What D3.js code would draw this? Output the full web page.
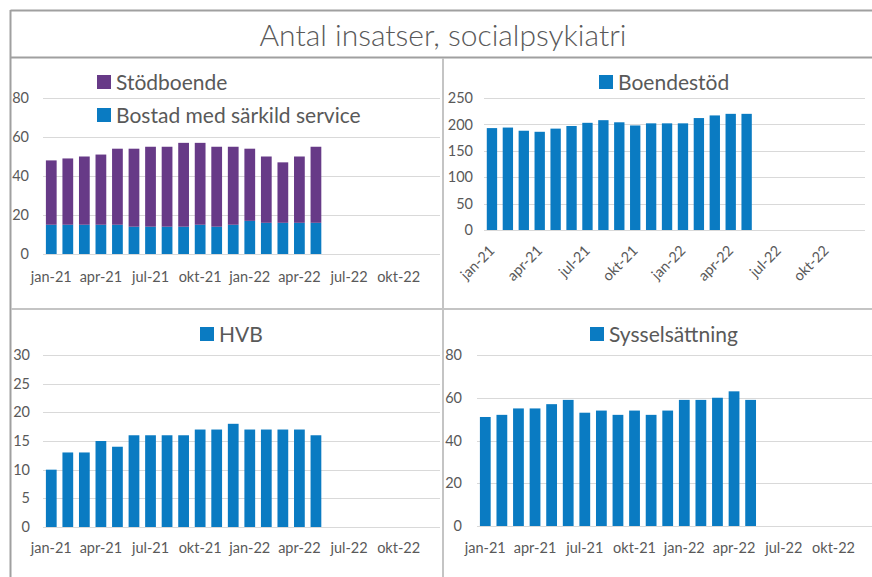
<!DOCTYPE html>
<html><head><meta charset="utf-8">
<script src="https://cdn.jsdelivr.net/npm/d3@7/dist/d3.min.js"></script>
<style>
body{margin:0;background:#fff;}
svg{display:block;font-family:Lato,"Open Sans",sans-serif;}
</style></head>
<body><svg id="c" width="872" height="577"></svg>
<script>
const months = ["jan-21","feb-21","mar-21","apr-21","maj-21","jun-21","jul-21","aug-21","sep-21","okt-21","nov-21","dec-21",
                "jan-22","feb-22","mar-22","apr-22","maj-22","jun-22","jul-22","aug-22","sep-22","okt-22","nov-22","dec-22"];
const tickLabels = ["jan-21","apr-21","jul-21","okt-21","jan-22","apr-22","jul-22","okt-22"];
const bostad = [15,15,15,15,15,14,14,14,14,15,14,15,17,16,16,16,16];
const stodboende = [33,34,35,36,39,40,41,41,43,42,41,40,37,34,31,34,39];
const boendestod = [193,194,188,186,192,197,203,208,204,198,202,202,202,212,217,220,220];
const hvb = [10,13,13,15,14,16,16,16,16,17,17,18,17,17,17,17,16];
const syssel = [51,52,55,55,57,59,53,54,52,54,52,54,59,59,60,63,59];
const title = "Antal insatser, socialpsykiatri";

const BLUE = "#0a7bc2", PURPLE = "#673a87", TEXT = "#595959", GRID = "#d9d9d9";
const svg = d3.select("#c");

function panel(cfg){
  const g = svg.append("g");
  const x = d3.scaleBand().domain(months).range([cfg.x0, cfg.x1]).paddingInner(0.35).paddingOuter(0.175);
  const y = d3.scaleLinear().domain([0, cfg.ymax]).range([cfg.yb, cfg.yt]);
  const ticks = d3.range(0, cfg.ymax + 1e-9, cfg.ystep);
  g.append("g").selectAll("line").data(ticks).join("line")
    .attr("x1", cfg.x0).attr("x2", cfg.gx1 || cfg.x1)
    .attr("y1", d => Math.round(y(d)) + 0.5).attr("y2", d => Math.round(y(d)) + 0.5)
    .attr("stroke", GRID).attr("stroke-width", 1);
  const ya = g.append("g").attr("transform", `translate(${cfg.x0},0)`)
    .call(d3.axisLeft(y).tickValues(ticks).tickSize(0).tickPadding(cfg.ypad).tickFormat(d3.format("d")));
  ya.select(".domain").remove();
  ya.selectAll("text").attr("fill", TEXT).style("font-size", "14.5px").style("font-family", "Lato");
  cfg.series.forEach(s => {
    g.append("g").selectAll("rect").data(s.values).join("rect")
      .attr("x", (d, i) => x(months[i]))
      .attr("width", x.bandwidth())
      .attr("y", (d, i) => y(s.base ? s.base[i] + d : d))
      .attr("height", (d, i) => y(s.base ? s.base[i] : 0) - y(s.base ? s.base[i] + d : d))
      .attr("fill", s.color);
  });
  const xa = g.append("g").attr("transform", `translate(0,${cfg.yb})`)
    .call(d3.axisBottom(x).tickValues(tickLabels).tickSize(0).tickPadding(cfg.xpad));
  xa.select(".domain").remove();
  xa.selectAll("text").attr("fill", TEXT).style("font-size", "14.5px").style("font-family", "Lato");
  if (cfg.rotate) {
    xa.selectAll("text").attr("text-anchor", "end").attr("dy", "0.35em")
      .attr("transform", `translate(0,${cfg.xpad}) rotate(-45)`).attr("y", 0).attr("x", 0);
  }
  cfg.legend.forEach(l => {
    g.append("rect").attr("x", l.x).attr("y", l.y - 7).attr("width", 14).attr("height", 14).attr("fill", l.color);
    g.append("text").attr("x", l.x + 19).attr("y", l.y).attr("dy", "0.36em")
      .attr("fill", TEXT).style("font-size", "21px").style("font-family", "Lato").text(l.label);
  });
}

svg.append("line").attr("x1", 10.5).attr("x2", 872).attr("y1", 10.5).attr("y2", 10.5).attr("stroke", "#a0a0a0").attr("stroke-width", 2);
svg.append("line").attr("x1", 10.5).attr("x2", 10.5).attr("y1", 10).attr("y2", 577).attr("stroke", "#a0a0a0").attr("stroke-width", 2);
svg.append("line").attr("x1", 10).attr("x2", 872).attr("y1", 57.5).attr("y2", 57.5).attr("stroke", "#a0a0a0").attr("stroke-width", 2);
svg.append("line").attr("x1", 443).attr("x2", 443).attr("y1", 58).attr("y2", 577).attr("stroke", "#c4c4c4").attr("stroke-width", 2);
svg.append("line").attr("x1", 11).attr("x2", 872).attr("y1", 309).attr("y2", 309).attr("stroke", "#c4c4c4").attr("stroke-width", 2);

svg.append("text").attr("x", 443).attr("y", 35).attr("dy", "0.35em").attr("text-anchor", "middle")
  .attr("fill", TEXT).style("font-size", "30px").style("font-weight", 300).style("font-family", "Lato").text(title);

panel({x0:43, x1:440, yb:254, yt:98, ymax:80, ystep:20, ypad:14, xpad:18,
  series:[{values:bostad, color:BLUE},{values:stodboende, base:bostad, color:PURPLE}],
  legend:[{x:97, y:82, color:PURPLE, label:"Stödboende"},{x:97, y:115, color:BLUE, label:"Bostad med särkild service"}]});
panel({x0:484, x1:866, gx1:865, yb:230, yt:98, ymax:250, ystep:50, ypad:11, xpad:18, rotate:true,
  series:[{values:boendestod, color:BLUE}],
  legend:[{x:599, y:82, color:BLUE, label:"Boendestöd"}]});
panel({x0:43, x1:440, yb:527, yt:355, ymax:30, ystep:5, ypad:13, xpad:16,
  series:[{values:hvb, color:BLUE}],
  legend:[{x:200, y:334, color:BLUE, label:"HVB"}]});
panel({x0:477, x1:875, gx1:872, yb:526, yt:355, ymax:80, ystep:20, ypad:15, xpad:17,
  series:[{values:syssel, color:BLUE}],
  legend:[{x:590, y:334, color:BLUE, label:"Sysselsättning"}]});
</script></body></html>
